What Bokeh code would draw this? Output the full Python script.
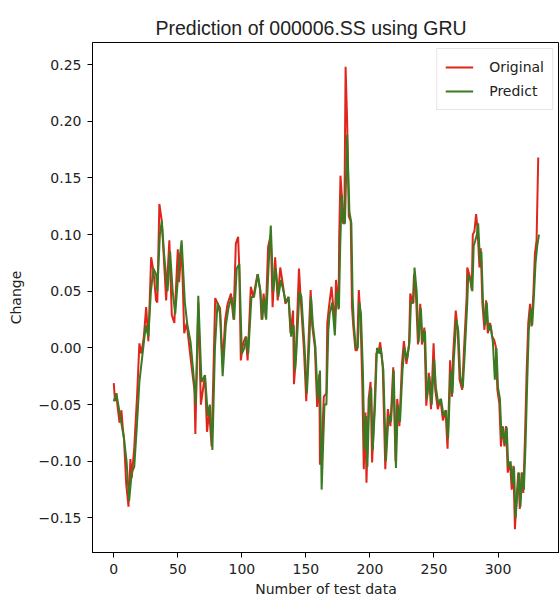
from bokeh.plotting import figure
from bokeh.models import Range1d, FixedTicker, Legend, LegendItem
from bokeh.embed import file_html
from bokeh.resources import INLINE

# Original series (index, change)
orig_x = [0, 1, 2, 3, 4.5, 6, 7, 8, 9.7, 11.5, 13, 14, 16, 18.3, 20, 21.5, 23.5, 25.3, 27, 29.2,
          31, 33, 34, 35.6, 37.5, 39.5, 40.9, 43.4, 45.3, 47.3, 50, 51, 53, 55, 57, 59, 60.6, 63, 63.7, 66,
          68, 71.2, 72.8, 74.5, 76.4, 79.2, 80.8, 83, 85, 87, 88.9, 91.5, 93.5, 95.3, 97.1, 98, 99.2, 101, 103, 104.5,
          107, 109, 112.2, 114.3, 115.4, 117, 118.6, 120.5, 122.6, 124, 126, 128, 130, 132, 134, 136.4, 138, 140, 140.7, 142,
          144.6, 146, 148.5, 150.3, 152, 153.7, 155, 157, 158.8, 160.5, 161, 162.3, 164, 166, 166.7, 168, 170, 172.6, 173.5, 175.5,
          176, 177, 178, 179, 180, 181, 182.2, 183.5, 185, 186, 187, 188.7, 190, 191.3, 192.6, 194, 195.2, 196.5, 197.3, 199,
          200.5, 201.7, 203.7, 205, 207, 208, 210, 212, 214, 216, 218.2, 220, 221.3, 223, 225, 226.5, 228.5, 230.5, 231.5, 233.5,
          234.4, 236, 237.5, 239.3, 240.6, 242.5, 244, 246, 247.7, 249.7, 251, 253, 255, 257, 259, 260.6, 262.6, 264, 265, 267,
          268.5, 270, 272, 273.4, 275.5, 276, 278, 279.5, 280.3, 281.6, 282.9, 284, 285.5, 286.5, 287.8, 289.4, 290.7, 292, 293.8, 295.4,
          297, 298.3, 299.5, 301, 302.3, 303.6, 305, 306.3, 307.6, 309.4, 310.7, 312, 313.2, 314.5, 315.8, 317, 318.4, 319.7, 321, 322.3,
          323.6, 325, 326.2, 327.6, 328.8, 330.1, 331.4]
orig_y = [-0.031, -0.047, -0.040, -0.052, -0.066, -0.055, -0.070, -0.080, -0.120, -0.140, -0.098, -0.115, -0.088, -0.040, 0.004, -0.005, 0.010, 0.036, 0.006, 0.080,
          0.068, 0.042, 0.040, 0.127, 0.112, 0.071, 0.042, 0.095, 0.029, 0.022, 0.087, 0.058, 0.090, 0.013, 0.022, 0.001, -0.015, -0.037, -0.076, 0.040,
          -0.050, -0.024, -0.074, -0.056, -0.087, 0.044, 0.040, 0.035, -0.015, 0.025, 0.039, 0.048, 0.025, 0.092, 0.098, 0.070, -0.011, 0.004, 0.010, -0.011,
          0.054, 0.045, 0.065, 0.051, 0.025, 0.048, 0.027, 0.089, 0.100, 0.036, 0.080, 0.042, 0.071, 0.056, 0.039, 0.045, 0.013, 0.033, -0.032, -0.011,
          0.070, 0.042, -0.002, -0.047, 0.004, 0.051, 0.019, 0.001, -0.052, -0.023, -0.103, -0.090, -0.043, -0.040, 0.022, 0.036, 0.054, 0.020, 0.060, 0.034,
          0.098, 0.152, 0.135, 0.110, 0.110, 0.248, 0.200, 0.116, 0.112, 0.036, 0.019, -0.002, -0.002, 0.051, 0.028, -0.030, -0.107, -0.057, -0.119, -0.045,
          -0.030, -0.101, -0.048, -0.005, -0.002, 0.005, -0.017, -0.107, -0.054, -0.069, -0.017, -0.100, -0.045, -0.069, -0.014, 0.006, -0.014, 0.003, 0.048, 0.039,
          0.065, 0.045, 0.003, 0.039, 0.003, 0.018, -0.051, -0.022, -0.054, 0.004, -0.037, -0.054, -0.045, -0.064, -0.055, -0.089, -0.011, -0.043, -0.005, 0.033,
          0.016, -0.028, -0.037, -0.002, 0.045, 0.071, 0.063, 0.051, 0.100, 0.103, 0.118, 0.105, 0.071, 0.088, 0.039, 0.016, 0.042, 0.013, 0.022, 0.010,
          0.007, 0.001, -0.037, -0.049, -0.087, -0.069, -0.087, -0.069, -0.110, -0.101, -0.125, -0.104, -0.160, -0.133, -0.110, -0.142, -0.110, -0.128, -0.081, -0.023,
          0.022, 0.039, 0.019, 0.048, 0.083, 0.095, 0.168]

# Predict series (index, change)
pred_x = [0, 2, 5, 8, 10, 12, 14, 16, 18, 20, 22, 25, 27, 29, 31, 33, 34, 36, 37.5, 39.5,
          42, 44, 46, 48, 51, 53, 55.5, 57.5, 60, 62, 64, 66, 68.5, 71.2, 73.5, 75, 77, 79, 81, 83,
          85, 87.5, 89.5, 92, 94, 96, 98, 100, 102, 103.5, 105, 107.5, 109.5, 112.5, 114.5, 116, 117.5, 119, 121, 122.6,
          124.5, 126.5, 128.5, 130.5, 132.5, 134.5, 136.5, 138.5, 140.5, 141.5, 142.5, 145, 146.5, 149, 150.8, 152.5, 154, 155.5, 157.5, 159.2,
          161, 162.3, 164.5, 166, 167.5, 168.5, 170.5, 172.6, 174, 175.8, 176.8, 178, 179.5, 180.5, 182.2, 184, 185.5, 186.5, 187.5, 189,
          190.5, 191.8, 193, 194.5, 195.7, 197, 198, 199.5, 201, 202.2, 204, 205.5, 207.5, 208.5, 210.5, 212.5, 214.5, 216.5, 218.6, 220.3,
          221.8, 223.5, 225.4, 227, 229, 230.9, 232, 234, 234.8, 236.5, 238, 239.8, 241, 243, 244.5, 246.5, 248.2, 250.2, 251.5, 253.5,
          255.5, 257.5, 259.5, 261, 263, 264.5, 265.5, 267.5, 269, 270.5, 272.5, 274, 276, 276.8, 278.5, 280, 281, 282.3, 283.5, 284.5,
          286, 287, 288.3, 290, 291.2, 292.5, 294.3, 296, 297.5, 298.8, 300, 301.5, 302.8, 304, 305.5, 306.8, 308, 309.8, 311.2, 312.5,
          313.7, 315, 316.3, 317.5, 318.9, 320.2, 321.5, 322.8, 324, 325.5, 326.7, 328, 329.3, 330.6, 332]
pred_y = [-0.047, -0.040, -0.060, -0.080, -0.100, -0.135, -0.110, -0.105, -0.070, -0.030, -0.010, 0.020, 0.010, 0.050, 0.070, 0.065, 0.050, 0.100, 0.112, 0.080,
          0.050, 0.085, 0.050, 0.030, 0.075, 0.095, 0.040, 0.020, 0.005, -0.020, -0.050, 0.046, -0.030, -0.024, -0.060, -0.050, -0.090, 0.000, 0.040, 0.030,
          -0.025, 0.020, 0.035, 0.045, 0.025, 0.070, 0.074, -0.005, 0.000, 0.010, -0.005, 0.045, 0.045, 0.065, 0.050, 0.025, 0.045, 0.025, 0.075, 0.108,
          0.050, 0.070, 0.045, 0.060, 0.050, 0.040, 0.045, 0.010, 0.020, -0.020, -0.005, 0.050, 0.045, 0.000, -0.040, 0.000, 0.045, 0.020, 0.000, -0.045,
          -0.020, -0.125, -0.050, -0.050, 0.015, 0.030, 0.040, 0.011, 0.050, 0.035, 0.090, 0.135, 0.110, 0.110, 0.188, 0.120, 0.110, 0.045, 0.020, 0.000,
          0.000, 0.040, 0.030, -0.020, -0.090, -0.060, -0.105, -0.045, -0.035, -0.090, -0.050, 0.000, -0.005, 0.000, -0.020, -0.100, -0.060, -0.065, -0.020, -0.106,
          -0.050, -0.065, -0.020, 0.000, -0.010, 0.005, 0.040, 0.040, 0.071, 0.050, 0.005, 0.035, 0.005, 0.015, -0.045, -0.025, -0.050, -0.010, -0.035, -0.050,
          -0.045, -0.060, -0.055, -0.080, -0.020, -0.040, -0.010, 0.025, 0.015, -0.025, -0.035, -0.005, 0.040, 0.065, 0.060, 0.050, 0.090, 0.095, 0.100, 0.110,
          0.075, 0.085, 0.040, 0.020, 0.040, 0.015, 0.020, 0.005, -0.028, 0.000, -0.035, -0.045, -0.080, -0.070, -0.085, -0.070, -0.105, -0.100, -0.120, -0.105,
          -0.150, -0.130, -0.110, -0.140, -0.110, -0.125, -0.085, -0.030, 0.015, 0.035, 0.020, 0.045, 0.075, 0.090, 0.100]

x_ticks = [0, 50, 100, 150, 200, 250, 300]
y_ticks = [-0.15, -0.10, -0.05, 0.00, 0.05, 0.10, 0.15, 0.20, 0.25]
y_tick_labels = ["\u22120.15", "\u22120.10", "\u22120.05", "0.00", "0.05", "0.10", "0.15", "0.20", "0.25"]

FONT = "DejaVu Sans"

p = figure(width=559, height=599, output_backend="svg", toolbar_location=None,
           x_range=Range1d(-16.6, 348.0), y_range=Range1d(-0.1805, 0.2695),
           min_border_left=92, min_border_right=0, min_border_top=42, min_border_bottom=44)

p.title.text = "Prediction of 000006.SS using GRU"
p.title.align = "left"
p.title.offset = 63
p.title.text_font = "Liberation Sans"
p.title.text_font_size = "19.5px"
p.title.text_font_style = "normal"
p.title.text_color = "#222222"
p.title.standoff = 7

p.xgrid.visible = False
p.ygrid.visible = False
p.outline_line_color = "black"
p.outline_line_width = 1
p.background_fill_color = "white"
p.border_fill_color = "white"

for ax in (p.xaxis[0], p.yaxis[0]):
    ax.axis_line_color = "black"
    ax.major_tick_line_color = "black"
    ax.major_tick_out = 5
    ax.major_tick_in = 0
    ax.minor_tick_line_color = None
    ax.major_label_text_font = FONT
    ax.major_label_text_font_size = "14px"
    ax.major_label_text_color = "#222222"
    ax.axis_label_text_font = FONT
    ax.axis_label_text_font_size = "14px"
    ax.axis_label_text_font_style = "normal"
    ax.axis_label_text_color = "#222222"

p.xaxis.ticker = FixedTicker(ticks=x_ticks)
p.yaxis.ticker = FixedTicker(ticks=y_ticks)
p.yaxis.major_label_overrides = {t: l for t, l in zip(y_ticks, y_tick_labels)}
p.xaxis.axis_label = "Number of test data"
p.yaxis.axis_label = "Change"
p.xaxis.major_label_standoff = 6
p.yaxis.major_label_standoff = 6
p.xaxis.axis_label_standoff = 4
p.yaxis.axis_label_standoff = 12

r1 = p.line(orig_x, orig_y, line_color="#e0251b", line_width=2)
r2 = p.line(pred_x, pred_y, line_color="#3a7a22", line_width=2)

legend = Legend(items=[LegendItem(label="Original", renderers=[r1]),
                       LegendItem(label="Predict", renderers=[r2])],
                location="top_right")
legend.label_text_font = FONT
legend.label_text_font_size = "14px"
legend.label_text_color = "#222222"
legend.glyph_width = 28
legend.label_standoff = 16
legend.spacing = 4
legend.padding = 8
legend.margin = 6
legend.border_line_color = "#cccccc"
legend.background_fill_alpha = 0.8
p.add_layout(legend)

open("out.html", "w").write(file_html(p, INLINE))
